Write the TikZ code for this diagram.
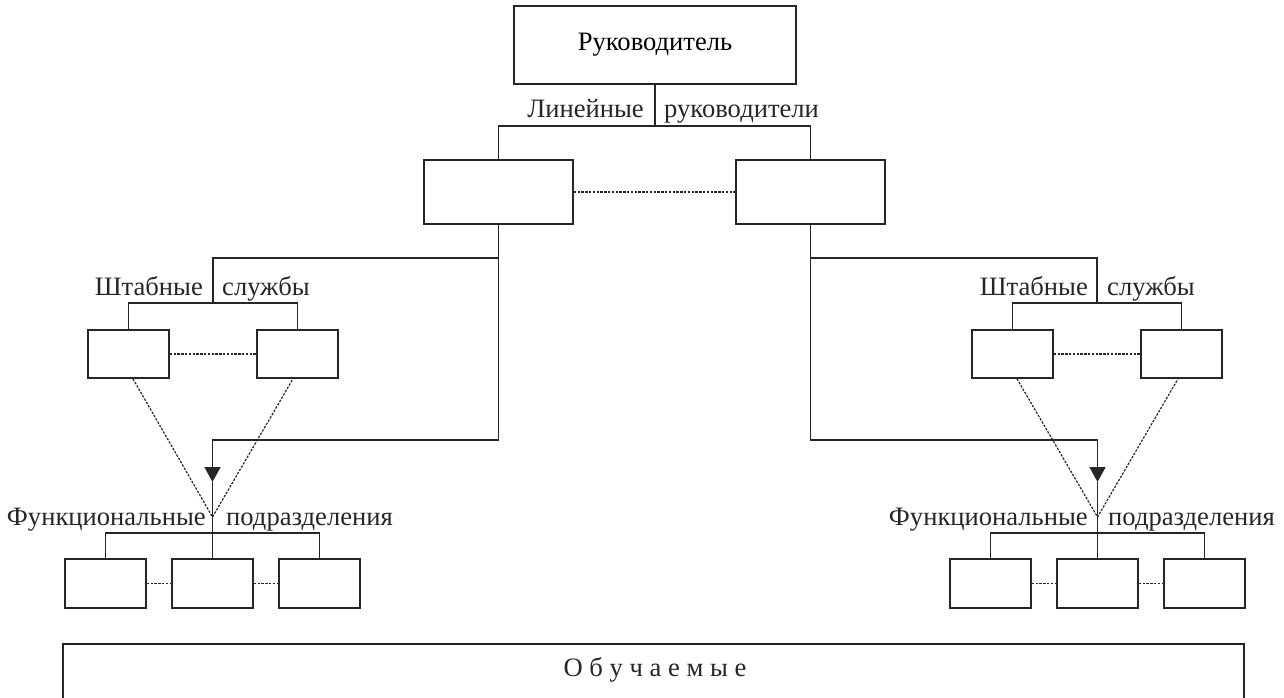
\documentclass[tikz,border=0pt]{standalone}
\usepackage{fontspec}
\setmainfont{Liberation Serif}
\usetikzlibrary{arrows.meta}
\begin{document}
\begin{tikzpicture}[x=1pt,y=-1pt,
  every node/.style={font=\fontsize{26.6}{31}\selectfont},
  unit/.style={draw=black!85, line width=1.6pt, fill=white, inner sep=0pt},
  lbl/.style={inner sep=0pt, text=black!85},
  link/.style={draw=black!85, line width=1.6pt},
  peer/.style={draw=black!85, line width=1.2pt, dash pattern=on 2.4pt off 1.4pt},
  tip/.style={-{Triangle[length=15pt,width=16pt]}}]
\useasboundingbox (0,0) rectangle (1284,697);

% head of the organisation
\node[unit, minimum width=282, minimum height=78] (top) at (655,45) {Руководитель};

% line managers
\node[unit, minimum width=149, minimum height=64] (L1) at (498.5,192) {};
\node[unit, minimum width=149, minimum height=64] (R1) at (810.5,192) {};
\node[lbl, anchor=base east] (lmA) at (644,117) {Линейные};
\node[lbl, anchor=base west] (lmB) at (664,117) {руководители};
\coordinate (jt) at (655,126);
\draw[link] (top.south) -- (jt);
\draw[link] (L1.north) |- (jt) -| (R1.north);
\draw[peer] (L1.east) -- (R1.west);

% staff services, left
\node[unit, minimum width=81, minimum height=48] (SL1) at (128.5,354) {};
\node[unit, minimum width=81, minimum height=48] (SL2) at (297.5,354) {};
\node[lbl, anchor=base east] (slA) at (203,295) {Штабные};
\node[lbl, anchor=base west] (slB) at (222,295) {службы};
\coordinate (slj) at (213,303);
\coordinate (slb) at (498.5,258);
\draw[link] (slb) -| (slj);
\draw[link] (SL1.north) |- (slj) -| (SL2.north);
\draw[peer] (SL1.east) -- (SL2.west);

% staff services, right
\node[unit, minimum width=81, minimum height=48] (SR1) at (1012.5,354) {};
\node[unit, minimum width=81, minimum height=48] (SR2) at (1181.5,354) {};
\node[lbl, anchor=base east] (srA) at (1088,295) {Штабные};
\node[lbl, anchor=base west] (srB) at (1107,295) {службы};
\coordinate (srj) at (1097,303);
\coordinate (srb) at (810.5,258);
\draw[link] (srb) -| (srj);
\draw[link] (SR1.north) |- (srj) -| (SR2.north);
\draw[peer] (SR1.east) -- (SR2.west);

% functional units, left
\node[unit, minimum width=81, minimum height=49] (FL1) at (105.5,583.5) {};
\node[unit, minimum width=81, minimum height=49] (FL2) at (212.5,583.5) {};
\node[unit, minimum width=81, minimum height=49] (FL3) at (319.5,583.5) {};
\node[lbl, anchor=base east] (flA) at (206,525) {Функциональные};
\node[lbl, anchor=base west] (flB) at (226,525) {подразделения};
\coordinate (flc) at (212.5,440);
\coordinate (flt) at (212.5,482);
\coordinate (flv) at (212.5,517);
\coordinate (flj) at (212.5,533);
\draw[link, tip] (L1.south) |- (flc) -- (flt);
\draw[link] (flt) -- (FL2.north);
\draw[link] (FL1.north) |- (flj) -| (FL3.north);
\draw[peer] (FL1.east) -- (FL2.west);
\draw[peer] (FL2.east) -- (FL3.west);
\draw[peer] ([xshift=4.5]SL1.south) -- (flv) -- ([xshift=-4.5]SL2.south);

% functional units, right
\node[unit, minimum width=81, minimum height=49] (FR1) at (990.5,583.5) {};
\node[unit, minimum width=81, minimum height=49] (FR2) at (1097.5,583.5) {};
\node[unit, minimum width=81, minimum height=49] (FR3) at (1204.5,583.5) {};
\node[lbl, anchor=base east] (frA) at (1088,525) {Функциональные};
\node[lbl, anchor=base west] (frB) at (1108,525) {подразделения};
\coordinate (frc) at (1097.5,440);
\coordinate (frt) at (1097.5,482);
\coordinate (frv) at (1097.5,517);
\coordinate (frj) at (1097.5,533);
\draw[link, tip] (R1.south) |- (frc) -- (frt);
\draw[link] (frt) -- (FR2.north);
\draw[link] (FR1.north) |- (frj) -| (FR3.north);
\draw[peer] (FR1.east) -- (FR2.west);
\draw[peer] (FR2.east) -- (FR3.west);
\draw[peer] ([xshift=4.5]SR1.south) -- (frv) -- ([xshift=-3.5]SR2.south);

% trainees, open at the lower edge
\node[inner sep=0pt, minimum width=1181, minimum height=54] (learn) at (653.5,671) {};
\node[lbl] (learnT) at (655,670) {О б у ч а е м ы е};
\draw[link] (learn.south west) -- (learn.north west) -- (learn.north east) -- (learn.south east);
\end{tikzpicture}
\end{document}
